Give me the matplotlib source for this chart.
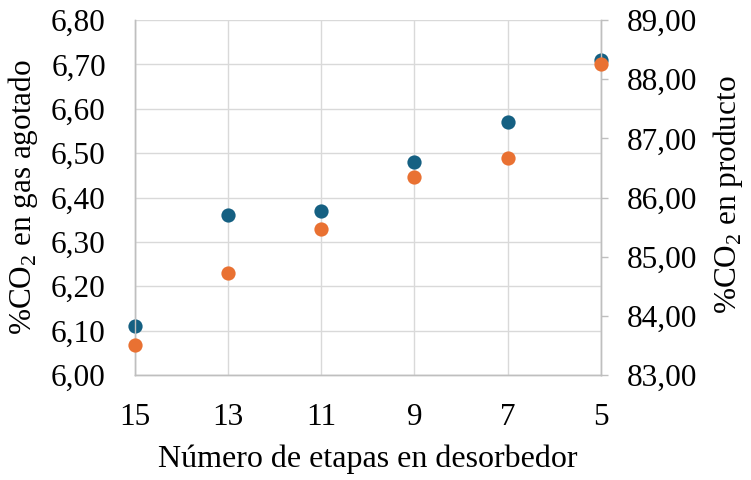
import matplotlib
matplotlib.use("Agg")
import matplotlib.pyplot as plt
from matplotlib.ticker import FuncFormatter, FixedLocator

plt.rcParams['font.family'] = ['Liberation Serif', 'DejaVu Serif']
plt.rcParams['mathtext.fontset'] = 'custom'
plt.rcParams['mathtext.rm'] = 'Liberation Serif'

# Number of desorber stages
etapas = [15, 13, 11, 9, 7, 5]
# %CO2 in exhausted gas (left axis)
co2_gas = [6.11, 6.36, 6.37, 6.48, 6.57, 6.71]
# %CO2 in product (right axis)
co2_producto = [83.51, 84.72, 85.47, 86.34, 86.67, 88.26]

x_ticks = [15, 13, 11, 9, 7, 5]
left_ticks = [6.0, 6.1, 6.2, 6.3, 6.4, 6.5, 6.6, 6.7, 6.8]
right_ticks = [83, 84, 85, 86, 87, 88, 89]

blue = '#156082'
orange = '#E97132'
grid_c = '#d9d9d9'
spine_c = '#bfbfbf'
fs = 22.5

fig = plt.figure(figsize=(7.51, 4.80), dpi=100)
ax = fig.add_axes([135 / 751, 1 - 375 / 480, (600.7 - 135) / 751, 355 / 480])
ax2 = ax.twinx()

ax.set_xlim(15, 5)
ax.set_ylim(6.0, 6.8)
ax2.set_ylim(83, 89)

ax.scatter(etapas, co2_gas, s=105, color=blue, zorder=3, clip_on=False, linewidths=0)
ax2.scatter(etapas, co2_producto, s=105, color=orange, zorder=3, clip_on=False, linewidths=0)

comma = lambda d: FuncFormatter(lambda v, p: f"{v:.{d}f}".replace('.', ','))
ax.xaxis.set_major_locator(FixedLocator(x_ticks))
ax.yaxis.set_major_locator(FixedLocator(left_ticks))
ax2.yaxis.set_major_locator(FixedLocator(right_ticks))
ax.yaxis.set_major_formatter(comma(2))
ax2.yaxis.set_major_formatter(comma(2))
ax.xaxis.set_major_formatter(FuncFormatter(lambda v, p: f"{int(round(v))}"))

ax.grid(True, color=grid_c, linewidth=1.0, zorder=0)
ax.set_axisbelow(True)

for a in (ax, ax2):
    a.spines['top'].set_visible(False)
    for side in ('left', 'right', 'bottom'):
        a.spines[side].set_color(spine_c)
        a.spines[side].set_linewidth(1.0)

ax.tick_params(axis='y', length=0, pad=21, labelsize=fs)
ax.tick_params(axis='x', length=0, pad=20, labelsize=fs)
ax2.tick_params(axis='y', length=5, width=1.0, color=spine_c, pad=14, labelsize=fs)

fig.text(23 / 751, 1 - 197 / 480, r'%CO$_\mathregular{2}$ en gas agotado', rotation=90,
         ha='center', va='center', fontsize=fs)
fig.text(728 / 751, 1 - 195 / 480, r'%CO$_\mathregular{2}$ en producto', rotation=90,
         ha='center', va='center', fontsize=fs)
fig.text(368 / 751, 1 - 459 / 480, 'Número de etapas en desorbedor',
         ha='center', va='center', fontsize=23)

fig.savefig('out.png', dpi=100)
